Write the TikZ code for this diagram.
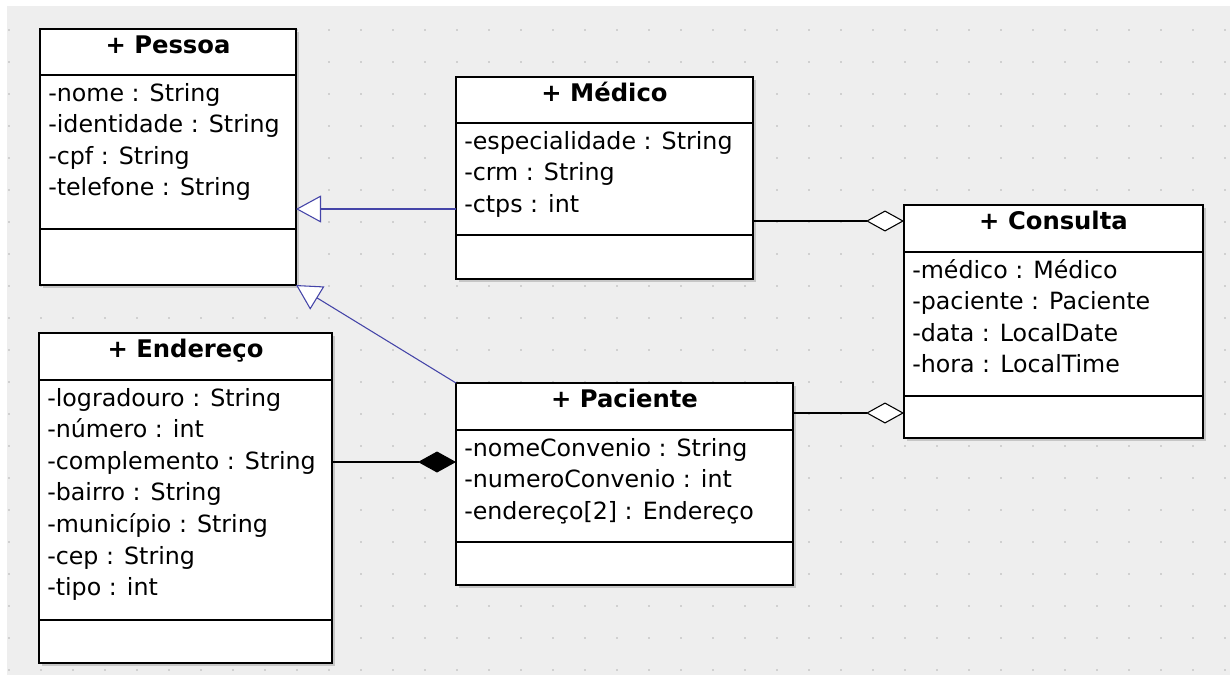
\documentclass[tikz,border=0pt]{standalone}
\usepackage{fontspec}
\setmainfont{DejaVu Sans}
\usetikzlibrary{arrows.meta,calc}
\definecolor{bgc}{HTML}{EEEEEE}
\definecolor{dotc}{HTML}{D0D0D0}
\definecolor{genc}{HTML}{4444A8}
\definecolor{shadc}{HTML}{C6C6C6}
\tikzset{
  umlbox/.style={draw=black, line width=1.4pt, fill=white, rectangle, inner sep=0pt, outer sep=0pt, anchor=north west},
  umltitle/.style={anchor=base, font=\fontsize{18.2}{22}\selectfont\bfseries, inner sep=0pt},
  umlattr/.style={anchor=base west, font=\fontsize{17.8}{21}\selectfont, inner sep=0pt},
  sepline/.style={line width=1.4pt},
  gen/.style={draw=genc, line width=0.8pt, -{Triangle[fill=white, length=18.75pt, width=20.25pt]}},
  agg/.style={draw=black, line width=0.8pt, -{Diamond[fill=white, length=28.5pt, width=15.75pt]}},
  comp/.style={draw=black, line width=0.8pt, -{Diamond[fill=black, length=28.5pt, width=15.75pt]}},
}
\newcommand\umlcls[9]{%
  \fill[shadc] (#2+3,#3+3) rectangle ++(#4,#5);
  \node[umlbox, minimum width=#4*0.75pt, minimum height=#5*0.75pt] (#1) at (#2,#3) {};
  \draw[sepline] ($(#1.north west)+(0,#6)$) -- ($(#1.north east)+(0,#6)$);
  \draw[sepline] ($(#1.north west)+(0,#7)$) -- ($(#1.north east)+(0,#7)$);
  \node[umltitle] (#1-t) at ($(#1.north)+(0,24)$) {+ #8};
  \foreach \a [count=\i] in {#9} {
    \node[umlattr] (#1-a\i) at ($(#1.north west)+(8,#6+26+\i*31.6-31.6)$) {\a};
  }
}
\begin{document}
\begin{tikzpicture}[x=0.75pt, y=-0.75pt]
  \useasboundingbox (0,0) rectangle (1230,675);
  \fill[white] (0,0) rectangle (1230,675);
  \fill[bgc] (7,6) rectangle (1230,675);
  \foreach \x in {0,...,38} {
    \foreach \y in {0,...,20} {
      \fill[dotc] (8+32*\x, 29+32*\y) rectangle ++(2,2);
    }
  }
  \umlcls{pessoa}{40}{29}{256}{256}{46}{200}{Pessoa}{{-nome : String},{-identidade : String},{-cpf : String},{-telefone : String}}
  \umlcls{medico}{456}{77}{297}{202}{46}{158}{Médico}{{-especialidade : String},{-crm : String},{-ctps : int}}
  \umlcls{consulta}{904}{205}{299}{233}{47}{191}{Consulta}{{-médico : Médico},{-paciente : Paciente},{-data : LocalDate},{-hora : LocalTime}}
  \umlcls{endereco}{39}{333}{293}{330}{47}{287}{Endereço}{{-logradouro : String},{-número : int},{-complemento : String},{-bairro : String},{-município : String},{-cep : String},{-tipo : int}}
  \umlcls{paciente}{456}{383}{337}{202}{47}{159}{Paciente}{{-nomeConvenio : String},{-numeroConvenio : int},{-endereço[2] : Endereço}}
  % connectors
  \coordinate (mg) at ($(medico.north west)+(0,132)$);
  \draw[gen] (mg) -- (mg -| pessoa.east);
  \draw[gen] (paciente.north west) -- (pessoa.south east);
  \coordinate (ma) at ($(medico.north east)+(0,144)$);
  \draw[agg] (ma) -- (ma -| consulta.west);
  \coordinate (pa) at ($(paciente.north east)+(0,30)$);
  \draw[agg] (pa) -- (pa -| consulta.west);
  \coordinate (ec) at ($(endereco.north east)+(0,129)$);
  \draw[comp] (ec) -- (ec -| paciente.west);
\end{tikzpicture}
\end{document}
